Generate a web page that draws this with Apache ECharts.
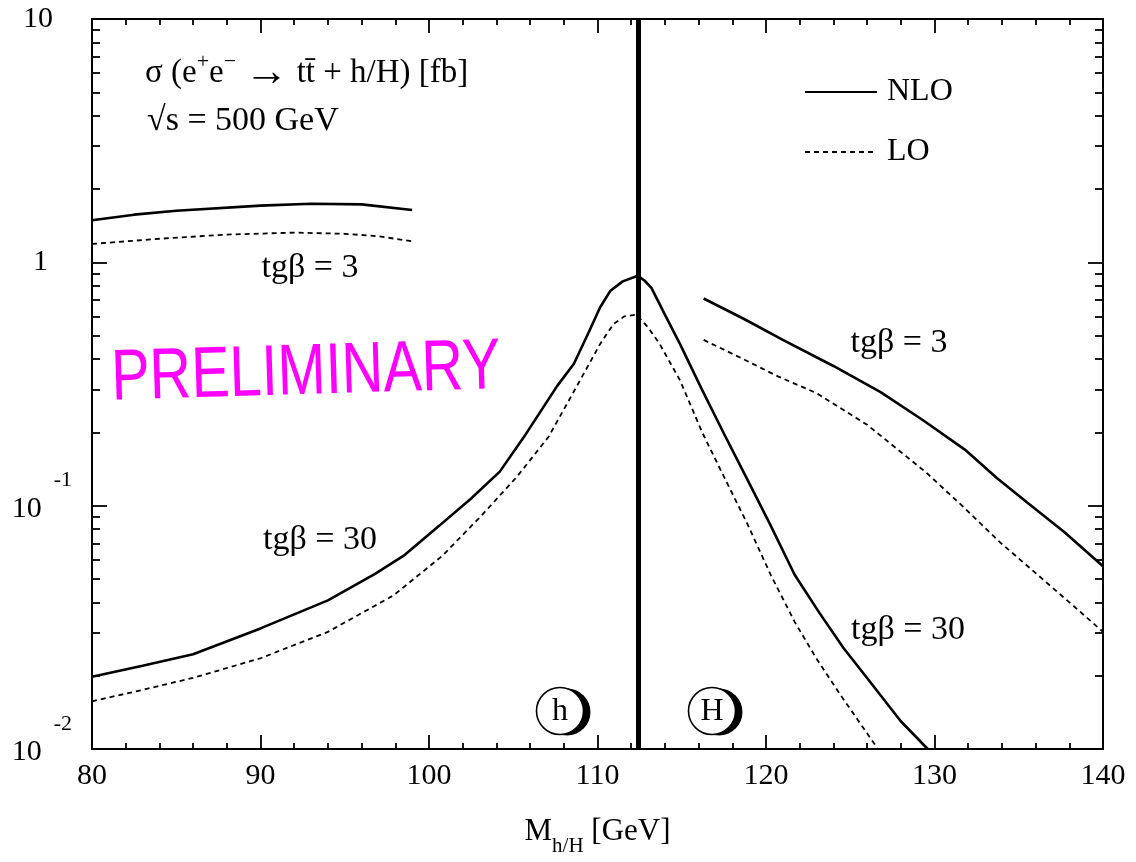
<!DOCTYPE html>
<html><head><meta charset="utf-8">
<script src="https://cdn.jsdelivr.net/npm/echarts@6/dist/echarts.min.js"></script>
<style>html,body{margin:0;padding:0;background:#fff}#c{width:1136px;height:862px}</style>
</head><body><div id="c"></div>
<script>
// ---- axis ticks ----
const xRange = [80, 140];
const yMajorTicks = [0.01, 0.1, 1, 10];
const yMinorTicks = [0.02,0.03,0.04,0.05,0.06,0.07,0.08,0.09,
                     0.2,0.3,0.4,0.5,0.6,0.7,0.8,0.9,
                     2,3,4,5,6,7,8,9];
const hMassLimit = [112.4];

// ---- tgβ = 3, h branch ----
const mNLO3h = [80, 82.5, 85, 90, 93, 96, 99];
const sNLO3h = [1.49, 1.57, 1.63, 1.71, 1.74, 1.73, 1.64];
const mLO3h  = [80, 84, 88, 92, 95, 97, 99];
const sLO3h  = [1.19, 1.25, 1.30, 1.325, 1.31, 1.28, 1.22];

// ---- tgβ = 30, h branch ----
const mNLO30h = [80, 83, 86, 90, 94, 96.8, 98.5, 100.6, 102.5, 104.2, 105.6, 107.6, 108.6, 109.5, 110.15, 110.75, 111.5, 112.4];
const sNLO30h = [0.0198, 0.022, 0.0245, 0.0313, 0.0408, 0.0524, 0.0623, 0.0826, 0.107, 0.138, 0.19, 0.31, 0.383, 0.52, 0.652, 0.762, 0.835, 0.88];
const mLO30h  = [80, 83, 86, 90, 94, 97.9, 100.8, 103.1, 105.2, 107.1, 108.96, 110.15, 110.94, 111.6, 112.4];
const sLO30h  = [0.0157, 0.0175, 0.0196, 0.0236, 0.0303, 0.0428, 0.0623, 0.0908, 0.131, 0.192, 0.327, 0.461, 0.557, 0.6, 0.61];

// ---- tgβ = 30, H branch ----
const mNLO30H = [112.4, 112.8, 113.2, 114.0, 114.9, 116.2, 117.5, 118.7, 120.2, 121.7, 123.2, 124.6, 126.3, 128, 129.6];
const sNLO30H = [0.88, 0.84, 0.785, 0.61, 0.461, 0.30, 0.198, 0.136, 0.085, 0.052, 0.036, 0.026, 0.0184, 0.013, 0.01];
const mLO30H  = [112.4, 113.0, 113.7, 114.9, 116.2, 117.4, 118.9, 120.3, 121.7, 123.0, 124.4, 126.6];
const sLO30H  = [0.60, 0.54, 0.461, 0.327, 0.201, 0.136, 0.084, 0.0516, 0.0333, 0.0235, 0.01675, 0.0101];

// ---- tgβ = 3, H branch ----
const mNLO3H = [116.3, 118.7, 121, 124, 126.8, 129.3, 131.8, 133.7, 135.5, 137.7, 140];
const sNLO3H = [0.71, 0.585, 0.48, 0.375, 0.293, 0.225, 0.17, 0.13, 0.103, 0.078, 0.0564];
const mLO3H  = [116.3, 118.5, 120.7, 123, 126, 129.5, 131.7, 133.9, 136.4, 138.2, 140];
const sLO3H  = [0.48, 0.405, 0.34, 0.29, 0.215, 0.137, 0.099, 0.0706, 0.05, 0.039, 0.0303];

const FONT = '"Liberation Serif", "Times New Roman", serif';
const zip = (a, b) => a.map((v, i) => [v, b[i]]);

function line(name, xs, ys, extra) {
  const dashed = name === 'LO';
  return Object.assign({
    type: 'line', name: name, data: zip(xs, ys),
    xAxisIndex: 0, yAxisIndex: 0,
    showSymbol: false, symbol: 'none', smooth: false,
    lineStyle: dashed ? {color: '#000', width: 1.8, type: [5, 4]} : {color: '#000', width: 2.6},
    itemStyle: {color: '#000'},
    silent: true, z: 3
  }, extra || {});
}

const series = [
  line('NLO', mNLO3h, sNLO3h, {
    markLine: {
      silent: true, symbol: 'none', label: {show: false},
      lineStyle: {color: '#000', width: 5, type: 'solid'},
      data: hMassLimit.map(v => ({xAxis: v}))
    }
  }),
  line('LO', mLO3h, sLO3h),
  line('NLO', mNLO30h, sNLO30h),
  line('LO', mLO30h, sLO30h),
  line('NLO', mNLO30H, sNLO30H),
  line('LO', mLO30H, sLO30H),
  line('NLO', mNLO3H, sNLO3H),
  line('LO', mLO3H, sLO3H)
];

function yLabel(v) {
  if (Math.abs(v - 10) < 1e-9) return '{t|10}';
  if (Math.abs(v - 1) < 1e-9) return '{o|1}';
  const e = Math.round(Math.log10(v));
  return '{b|10}{s|' + e + '}';
}

const axisLineStyle = {show: true, onZero: false, lineStyle: {color: '#000', width: 2}};
const yBase = {type: 'log', logBase: 10, min: 0.01, max: 10, gridIndex: 0,
               splitLine: {show: false}, minorSplitLine: {show: false}};

const option = {
  animation: false,
  backgroundColor: '#fff',
  grid: {left: 92, right: 33, top: 19, bottom: 107, containLabel: false},
  legend: {
    data: ['NLO', 'LO'], orient: 'vertical', left: 799, top: 71,
    itemWidth: 72, itemHeight: 14, itemGap: 28, selectedMode: false,
    itemStyle: {color: 'rgba(0,0,0,0)', borderColor: 'rgba(0,0,0,0)', borderWidth: 0, opacity: 0},
    formatter: n => '{a|' + n + '}',
    textStyle: {fontFamily: FONT, fontSize: 32, color: '#000',
                rich: {a: {fontFamily: FONT, fontSize: 32, color: '#000', padding: [0, 0, 0, 5]}}}
  },
  xAxis: [
    {type: 'value', min: xRange[0], max: xRange[1], interval: 10, position: 'bottom',
     axisLine: axisLineStyle,
     axisTick: {show: true, inside: true, length: 14, lineStyle: {color: '#000', width: 1.8}},
     minorTick: {show: true, splitNumber: 5, length: 6, lineStyle: {color: '#000', width: 1.8}},
     splitLine: {show: false},
     axisLabel: {show: true, margin: 12, color: '#000', fontFamily: FONT, fontSize: 30},
     name: '{m|M}{s|h/H}{g| [GeV]}', nameLocation: 'middle', nameGap: 57,
     nameTextStyle: {rich: {
       m: {fontFamily: FONT, fontSize: 31, color: '#000'},
       s: {fontFamily: FONT, fontSize: 21, color: '#000', padding: [30, 0, 0, 0]},
       g: {fontFamily: FONT, fontSize: 31, color: '#000'}
     }}},
    {type: 'value', min: xRange[0], max: xRange[1], interval: 10, position: 'top',
     axisLine: axisLineStyle,
     axisTick: {show: true, inside: true, length: 14, lineStyle: {color: '#000', width: 1.8}},
     minorTick: {show: true, splitNumber: 5, length: 6, lineStyle: {color: '#000', width: 1.8}},
     splitLine: {show: false}, axisLabel: {show: false}}
  ],
  yAxis: [
    Object.assign({}, yBase, {position: 'left',
      axisLine: axisLineStyle,
      axisTick: {show: true, inside: true, length: 15, customValues: yMajorTicks, lineStyle: {color: '#000', width: 1.8}},
      axisLabel: {show: true, margin: 20, customValues: yMajorTicks, showMinLabel: true, showMaxLabel: true,
        formatter: yLabel,
        rich: {
          t: {fontFamily: FONT, fontSize: 30, color: '#000', padding: [0, 19, 0, 0]},
          o: {fontFamily: FONT, fontSize: 30, color: '#000', padding: [0, 24, 0, 0]},
          b: {fontFamily: FONT, fontSize: 30, color: '#000', padding: [6, 0, 0, 0]},
          s: {fontFamily: FONT, fontSize: 22, color: '#000', padding: [0, 0, 50, 12], verticalAlign: 'top'}
        }}}),
    Object.assign({}, yBase, {position: 'left',
      axisLine: {show: false, onZero: false},
      axisTick: {show: true, inside: true, length: 8, customValues: yMinorTicks, lineStyle: {color: '#000', width: 1.8}},
      axisLabel: {show: false}}),
    Object.assign({}, yBase, {position: 'right',
      axisLine: axisLineStyle,
      axisTick: {show: true, inside: true, length: 15, customValues: yMajorTicks, lineStyle: {color: '#000', width: 1.8}},
      axisLabel: {show: false}}),
    Object.assign({}, yBase, {position: 'right',
      axisLine: {show: false, onZero: false},
      axisTick: {show: true, inside: true, length: 8, customValues: yMinorTicks, lineStyle: {color: '#000', width: 1.8}},
      axisLabel: {show: false}})
  ],
  series: series,
  graphic: [
    {type: 'text', x: 145, y: 73, style: {
      text: '{n|σ (e}{p|+}{n|e}{p|−}{n| }{a|→}{n| tt\u0304 + h/H) [fb]}',
      textVerticalAlign: 'middle', textAlign: 'left',
      rich: {
        n: {fontFamily: FONT, fontSize: 33, fill: '#000'},
        a: {fontFamily: FONT, fontSize: 44, fill: '#000'},
        p: {fontFamily: FONT, fontSize: 22, fill: '#000', padding: [0, 0, 18, 0], verticalAlign: 'top'}
      }}},
    {type: 'text', x: 147, y: 121, style: {text: '√s = 500 GeV', font: '34px ' + FONT, fill: '#000',
      textAlign: 'left', textVerticalAlign: 'middle'}},
    {type: 'text', x: 310, y: 268, style: {text: 'tgβ = 3', font: '34px ' + FONT, fill: '#000',
      textAlign: 'center', textVerticalAlign: 'middle'}},
    {type: 'text', x: 320, y: 540, style: {text: 'tgβ = 30', font: '34px ' + FONT, fill: '#000',
      textAlign: 'center', textVerticalAlign: 'middle'}},
    {type: 'text', x: 899, y: 343, style: {text: 'tgβ = 3', font: '34px ' + FONT, fill: '#000',
      textAlign: 'center', textVerticalAlign: 'middle'}},
    {type: 'text', x: 908, y: 630, style: {text: 'tgβ = 30', font: '34px ' + FONT, fill: '#000',
      textAlign: 'center', textVerticalAlign: 'middle'}},
    {type: 'text', x: 306, y: 374, rotation: 0.03, scaleX: 0.8, style: {text: 'PRELIMINARY',
      font: '72px "Liberation Sans", Arial, sans-serif', fill: '#ff00ff',
      textAlign: 'center', textVerticalAlign: 'middle'}},
    // h marker
    {type: 'circle', shape: {cx: 567, cy: 712, r: 23.5}, style: {fill: '#000'}, z: 10},
    {type: 'circle', shape: {cx: 560, cy: 711, r: 23.5}, style: {fill: '#fff', stroke: '#000', lineWidth: 1.6}, z: 11},
    {type: 'text', x: 560, y: 712, z: 12, style: {text: 'h', font: '32px ' + FONT, fill: '#000',
      textAlign: 'center', textVerticalAlign: 'middle'}},
    // H marker
    {type: 'circle', shape: {cx: 719, cy: 712, r: 23.5}, style: {fill: '#000'}, z: 10},
    {type: 'circle', shape: {cx: 712, cy: 711, r: 23.5}, style: {fill: '#fff', stroke: '#000', lineWidth: 1.6}, z: 11},
    {type: 'text', x: 712, y: 712, z: 12, style: {text: 'H', font: '32px ' + FONT, fill: '#000',
      textAlign: 'center', textVerticalAlign: 'middle'}}
  ]
};

const chart = echarts.init(document.getElementById('c'), null, {renderer: 'canvas'});
chart.setOption(option);
</script>
</body></html>
